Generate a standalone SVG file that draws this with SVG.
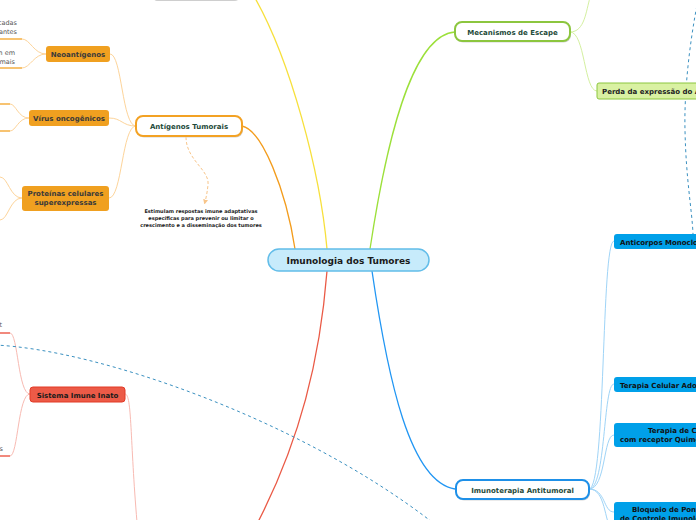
<svg xmlns="http://www.w3.org/2000/svg" width="696" height="520" viewBox="0 0 696 520">
<defs>
<style>
text{font-family:"DejaVu Sans","Verdana",sans-serif;font-weight:bold}
.main{fill:#fff;stroke-width:2}
.shadow{fill:#d6d6d6}
.t1{font-size:7px;fill:#1e4a3a}
.t2{font-size:7px;fill:#222}
.leaf{font-size:6.5px;fill:#555;font-weight:normal}
.c{fill:none}
</style>
<marker id="arr" viewBox="0 0 6 6" refX="3" refY="3" markerWidth="5" markerHeight="5" orient="auto">
<path d="M0,0 L6,3 L0,6 z" fill="#f8c58a"/>
</marker>
</defs>
<rect width="696" height="520" fill="#fff"/>

<g id="connectors" class="c">
<path d="M242,126 C262,130 286,190 295,249" stroke="#f39c1c" stroke-width="1.3"/>
<path d="M327,249 C320,170 290,60 255,-2" stroke="#f7e03c" stroke-width="1.3"/>
<path d="M370,249 C385,150 410,35 455,32" stroke="#9ce03a" stroke-width="1.3"/>
<path d="M372,271 C388,380 410,482 455,489" stroke="#2196f3" stroke-width="1.3"/>
<path d="M327,271 C320,360 300,440 258,522" stroke="#ea5a46" stroke-width="1.3"/>

<g stroke="#fdd49a" stroke-width="1">
<path d="M136,126 C122,126 122,54 110,54"/>
<path d="M136,126 C122,126 122,118 109,118"/>
<path d="M136,126 C122,126 122,198 109,198"/>
<path d="M46,54 C34,54 30,39 22,39"/>
<path d="M46,54 C34,54 30,68 22,68"/>
<path d="M29,118 C18,118 16,104 10,104"/>
<path d="M29,118 C18,118 16,131 10,131"/>
<path d="M22,198 C10,198 8,177 0,177"/>
<path d="M22,198 C10,198 8,220 0,220"/>
</g>
<g stroke="#f3a224" stroke-width="1.3">
<path d="M0,39 L22,39"/>
<path d="M0,68 L22,68"/>
<path d="M0,104 L10,104"/>
<path d="M0,131 L10,131"/>
</g>
<path d="M186,137 C186,160 210,170 208,185 C207,194 206,198 205,202" stroke="#f8c58a" stroke-width="1" stroke-dasharray="3,2" marker-end="url(#arr)"/>

<g stroke="#d4f0a0" stroke-width="1">
<path d="M570,32 C585,32 586,10 590,-2"/>
<path d="M570,32 C585,32 584,91 597,91"/>
</g>

<g stroke="#9fd4f7" stroke-width="1">
<path d="M589,489 C606,489 601,241 614,241"/>
<path d="M589,489 C606,489 603,384 614,384"/>
<path d="M589,489 C606,489 603,435 614,435"/>
<path d="M589,489 C606,489 603,512 614,512"/>
<path d="M589,489 C606,489 604,522 612,530"/>
</g>

<g stroke="#f8bab2" stroke-width="1">
<path d="M125,394 C132,394 130,440 137,522"/>
<path d="M30,394 C18,394 18,333 10,333"/>
<path d="M30,394 C18,394 18,456 10,456"/>
</g>
<g stroke="#ea4a36" stroke-width="1.3">
<path d="M0,333 L10,333"/>
<path d="M0,456 L10,456"/>
</g>

<path d="M-5,345 C100,350 300,420 432,522" stroke="#3a90c0" stroke-width="1" stroke-dasharray="3,3"/>
<path d="M698,0 C690,40 684,90 685,130 C686,180 692,210 693,234" stroke="#3a90c0" stroke-width="1" stroke-dasharray="3,3"/>
</g>

<g id="top-node">
<rect x="154" y="-19" width="85" height="20" rx="4" class="shadow"/>
<rect x="153" y="-20" width="85" height="20" rx="4" fill="#fff" stroke="#cccccc" stroke-width="1.5"/>
</g>

<g id="central">
<rect x="268" y="249" width="161" height="22" rx="11" fill="#c7ebfb" stroke="#62bde9" stroke-width="1.5"/>
<text x="348.5" y="263.5" text-anchor="middle" style="font-size:9px;fill:#1a1a1a">Imunologia dos Tumores</text>
</g>

<g id="antigenos">
<rect x="137" y="117.5" width="106" height="20" rx="7" class="shadow"/>
<rect x="136" y="116" width="106" height="20" rx="7" class="main" stroke="#f3a224"/>
<text x="189" y="129" text-anchor="middle" class="t1">Antígenos Tumorais</text>
</g>
<g id="neoantigenos">
<rect x="46" y="46" width="64" height="16" rx="3" fill="#f0a020"/>
<text x="78" y="57" text-anchor="middle" class="t2" style="fill:#3a3a3a">Neoantígenos</text>
</g>
<g id="leaf1"><text x="17" y="25" text-anchor="end" class="leaf">cadas</text><text x="17" y="34" text-anchor="end" class="leaf">antes</text></g>
<g id="leaf2"><text x="15" y="55" text-anchor="end" class="leaf">m em</text><text x="15" y="64" text-anchor="end" class="leaf">mais</text></g>
<g id="virus">
<rect x="29" y="110" width="80" height="16" rx="3" fill="#f0a020"/>
<text x="69" y="121" text-anchor="middle" class="t2" style="fill:#3a3a3a">Vírus oncogênicos</text>
</g>
<g id="proteinas">
<rect x="22" y="186" width="87" height="25" rx="3" fill="#f0a020"/>
<text x="65.5" y="196" text-anchor="middle" class="t2" style="fill:#3a3a3a">Proteínas celulares</text>
<text x="65.5" y="205" text-anchor="middle" class="t2" style="fill:#3a3a3a">superexpressas</text>
</g>
<g id="estimulam">
<text x="201" y="213" text-anchor="middle" style="font-size:5px;fill:#222">Estimulam respostas imune adaptativas</text>
<text x="201" y="220" text-anchor="middle" style="font-size:5px;fill:#222">específicas para prevenir ou limitar o</text>
<text x="201" y="227" text-anchor="middle" style="font-size:5px;fill:#222">crescimento e a disseminação dos tumores</text>
</g>

<g id="mecanismos">
<rect x="456" y="23.5" width="115" height="19" rx="7" class="shadow"/>
<rect x="455" y="22" width="115" height="19" rx="7" class="main" stroke="#8cc63f"/>
<text x="512.5" y="35" text-anchor="middle" class="t1">Mecanismos de Escape</text>
</g>
<g id="perda">
<rect x="597" y="83" width="120" height="16" rx="2" fill="#d9f1a2" stroke="#8cc63f" stroke-width="1"/>
<text x="602" y="94" class="t2">Perda da expressão do A</text>
</g>

<g id="imunoterapia">
<rect x="457" y="481.5" width="133" height="19" rx="7" class="shadow"/>
<rect x="456" y="480" width="133" height="19" rx="7" class="main" stroke="#1e90e8"/>
<text x="522.5" y="493" text-anchor="middle" class="t1">Imunoterapia Antitumoral</text>
</g>
<g id="anticorpos">
<rect x="614" y="234" width="100" height="15" rx="3" fill="#00a0e9"/>
<text x="620" y="244.5" class="t2" style="fill:#111">Anticorpos Monoclo</text>
</g>
<g id="terapia-celular">
<rect x="614" y="377" width="100" height="15" rx="3" fill="#00a0e9"/>
<text x="620" y="387.5" class="t2" style="fill:#111">Terapia Celular Ado</text>
</g>
<g id="terapia-car">
<rect x="614" y="423" width="100" height="24" rx="3" fill="#00a0e9"/>
<text x="648" y="433" class="t2" style="fill:#111">Terapia de C</text>
<text x="620" y="442" class="t2" style="fill:#111">com receptor Quime</text>
</g>
<g id="bloqueio">
<rect x="614" y="502" width="100" height="30" rx="3" fill="#00a0e9"/>
<text x="632" y="512" class="t2" style="fill:#111">Bloqueio de Pont</text>
<text x="620" y="521" class="t2" style="fill:#111">de Controle Imunolo</text>
</g>

<g id="sistema-inato">
<rect x="30" y="387" width="95" height="15" rx="3" fill="#ec5a47" stroke="#e23a26" stroke-width="1"/>
<text x="77.5" y="397.5" text-anchor="middle" class="t2" style="fill:#1a1a1a">Sistema Imune Inato</text>
</g>
<g id="leaf-red1"><text x="2" y="327" text-anchor="end" class="leaf">t</text></g>
<g id="leaf-red2"><text x="3" y="451" text-anchor="end" class="leaf">s</text></g>
</svg>
